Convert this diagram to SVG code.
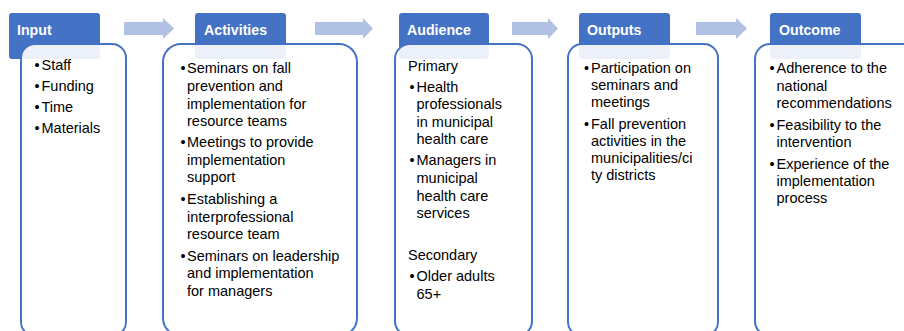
<svg xmlns="http://www.w3.org/2000/svg" width="904" height="331" viewBox="0 0 904 331">
<style>
.hdr{fill:#4472C4}
.body{fill:#FFFFFF;fill-opacity:0.9;stroke:#4472C4;stroke-width:2}
.ht{font-family:"Liberation Sans",Arial,sans-serif;font-weight:bold;font-size:14.2px;fill:#FFFFFF}
.bt{font-family:"Liberation Sans",Arial,sans-serif;font-size:14.5px;fill:#000000}
.arr{fill:#B1C1E4}
</style>
<rect width="904" height="331" fill="#FFFFFF"/>
<g id="connectors">
<polygon class="arr" points="124,22 163,22 163,18 174,28.5 163,39 163,35 124,35"/>
<polygon class="arr" points="315,22 363,22 363,18 373,28.5 363,39 363,35 315,35"/>
<polygon class="arr" points="512,22 548,22 548,18 558,28.5 548,39 548,35 512,35"/>
<polygon class="arr" points="696,22 736,22 736,18 747,28.5 736,39 736,35 696,35"/>
</g>
<g id="node-input">
<rect class="hdr" x="9" y="13" width="91" height="46" rx="3"/>
<rect class="body" x="21" y="44" width="105" height="292" rx="14"/>
<text class="ht" x="17" y="35">Input</text>
<text class="bt"><tspan x="34.5" y="70">•</tspan><tspan x="41.5" y="70">Staff</tspan><tspan x="34.5" y="91">•</tspan><tspan x="41.5" y="91">Funding</tspan><tspan x="34.5" y="112">•</tspan><tspan x="41.5" y="112">Time</tspan><tspan x="34.5" y="133">•</tspan><tspan x="41.5" y="133">Materials</tspan></text>
</g>
<g id="node-activities">
<rect class="hdr" x="195" y="13" width="91" height="46" rx="3"/>
<rect class="body" x="163" y="44" width="194" height="292" rx="18"/>
<text class="ht" x="204" y="35">Activities</text>
<text class="bt"><tspan x="180.5" y="73.3">•</tspan><tspan x="187" y="73.3">Seminars on fall</tspan><tspan x="187" y="91">prevention and</tspan><tspan x="187" y="108.5">implementation for</tspan><tspan x="187" y="126">resource teams</tspan><tspan x="180.5" y="147">•</tspan><tspan x="187" y="147">Meetings to provide</tspan><tspan x="187" y="164.8">implementation</tspan><tspan x="187" y="182.4">support</tspan><tspan x="180.5" y="204">•</tspan><tspan x="187" y="204">Establishing a</tspan><tspan x="187" y="221.6">interprofessional</tspan><tspan x="187" y="239.2">resource team</tspan><tspan x="180.5" y="260.5">•</tspan><tspan x="187" y="260.5">Seminars on leadership</tspan><tspan x="187" y="278.1">and implementation</tspan><tspan x="187" y="295.7">for managers</tspan></text>
</g>
<g id="node-audience">
<rect class="hdr" x="399" y="13" width="90" height="46" rx="3"/>
<rect class="body" x="395" y="44" width="137" height="292" rx="15"/>
<text class="ht" x="407" y="35">Audience</text>
<text class="bt"><tspan x="408" y="71">Primary</tspan><tspan x="409.5" y="91.5">•</tspan><tspan x="416.5" y="91.5">Health</tspan><tspan x="416.5" y="109">professionals</tspan><tspan x="416.5" y="126.6">in municipal</tspan><tspan x="416.5" y="144.2">health care</tspan><tspan x="409.5" y="165.3">•</tspan><tspan x="416.5" y="165.3">Managers in</tspan><tspan x="416.5" y="183">municipal</tspan><tspan x="416.5" y="200.6">health care</tspan><tspan x="416.5" y="218.2">services</tspan><tspan x="408" y="260.3">Secondary</tspan><tspan x="409.5" y="281">•</tspan><tspan x="416.5" y="281">Older adults</tspan><tspan x="416.5" y="299">65+</tspan></text>
</g>
<g id="node-outputs">
<rect class="hdr" x="579" y="13" width="91" height="46" rx="3"/>
<rect class="body" x="568" y="44" width="150" height="292" rx="14"/>
<text class="ht" x="587" y="35">Outputs</text>
<text class="bt"><tspan x="584" y="73.3">•</tspan><tspan x="591" y="73.3">Participation on</tspan><tspan x="591" y="90.3">seminars and</tspan><tspan x="591" y="107.3">meetings</tspan><tspan x="584" y="128.5">•</tspan><tspan x="591" y="128.5">Fall prevention</tspan><tspan x="591" y="145.7">activities in the</tspan><tspan x="591" y="162.8">municipalities/ci</tspan><tspan x="591" y="180">ty districts</tspan></text>
</g>
<g id="node-outcome">
<rect class="hdr" x="770" y="13" width="91" height="46" rx="3"/>
<rect class="body" x="755" y="44" width="170" height="292" rx="15"/>
<text class="ht" x="779" y="35">Outcome</text>
<text class="bt"><tspan x="769.5" y="73.3">•</tspan><tspan x="776.5" y="73.3">Adherence to the</tspan><tspan x="776.5" y="90.8">national</tspan><tspan x="776.5" y="108.3">recommendations</tspan><tspan x="769.5" y="129.8">•</tspan><tspan x="776.5" y="129.8">Feasibility to the</tspan><tspan x="776.5" y="147.2">intervention</tspan><tspan x="769.5" y="168.5">•</tspan><tspan x="776.5" y="168.5">Experience of the</tspan><tspan x="776.5" y="186">implementation</tspan><tspan x="776.5" y="203.3">process</tspan></text>
</g>
</svg>
